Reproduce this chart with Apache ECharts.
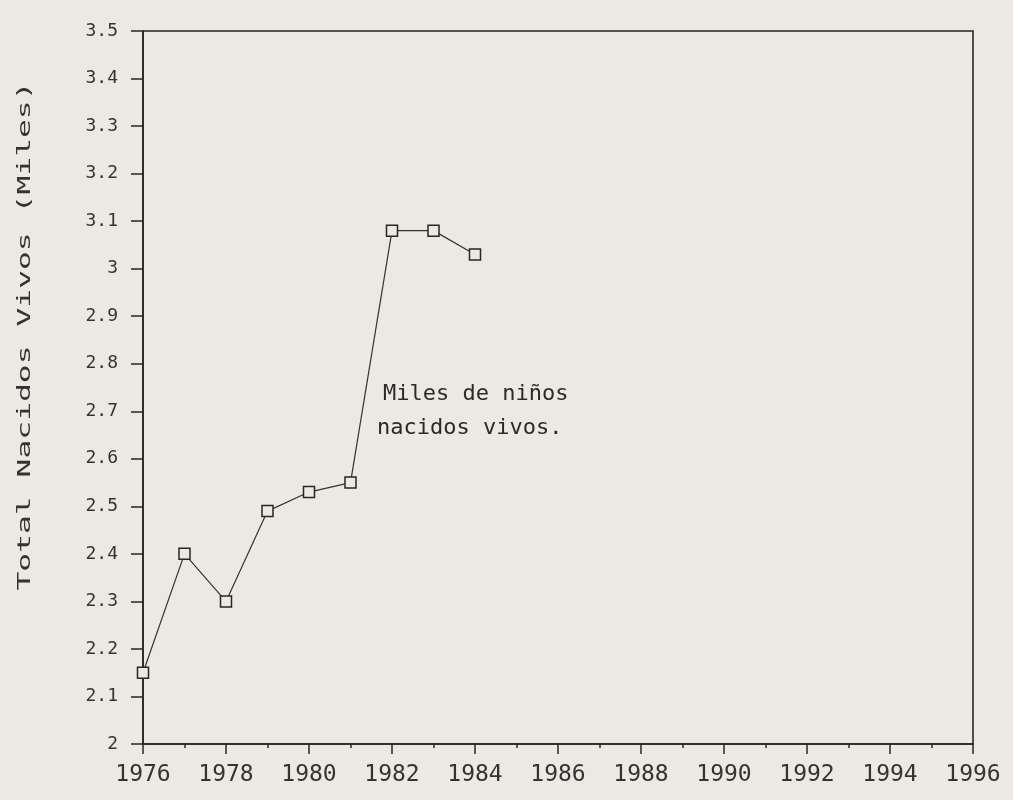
<!DOCTYPE html>
<html>
<head>
<meta charset="utf-8">
<script src="https://cdn.jsdelivr.net/npm/echarts@6/dist/echarts.min.js"></script>
<style>
html,body{margin:0;padding:0;background:#ece9e2;}
#chart{width:1013px;height:800px;}
</style>
</head>
<body>
<div id="chart"></div>
<script>
var years = [1976, 1977, 1978, 1979, 1980, 1981, 1982, 1983, 1984];
var nacidos = [2.15, 2.40, 2.30, 2.49, 2.53, 2.55, 3.08, 3.08, 3.03];
var xTickLabels = ['1976','1978','1980','1982','1984','1986','1988','1990','1992','1994','1996'];
var yTickLabels = ['2','2.1','2.2','2.3','2.4','2.5','2.6','2.7','2.8','2.9','3','3.1','3.2','3.3','3.4','3.5'];
var yTitle = 'Total Nacidos Vivos (Miles)';
var noteLine1 = 'Miles de niños';
var noteLine2 = 'nacidos vivos.';

var ink = '#262626';
var chart = echarts.init(document.getElementById('chart'));
chart.setOption({
  backgroundColor: '#ece9e2',
  animation: false,
  grid: {
    left: 143, right: 40, top: 31, bottom: 56,
    show: true, borderColor: ink, borderWidth: 1.6,
    outerBoundsMode: 'none'
  },
  xAxis: {
    type: 'value',
    min: 1976, max: 1996, interval: 2,
    axisLine: { show: true, lineStyle: { color: ink, width: 1.6 } },
    axisTick: { show: true, inside: false, length: 10, lineStyle: { color: ink, width: 1.5 } },
    minorTick: { show: true, splitNumber: 2, length: 4, lineStyle: { color: ink, width: 1.5 } },
    splitLine: { show: false },
    axisLabel: {
      margin: 20,
      color: '#333',
      fontFamily: 'DejaVu Sans Mono',
      fontSize: 23,
      formatter: function (v) {
        var i = Math.round((v - 1976) / 2);
        return xTickLabels[i] !== undefined ? xTickLabels[i] : '';
      }
    }
  },
  yAxis: {
    type: 'value',
    min: 2, max: 3.5, interval: 0.1,
    axisLine: { show: true, lineStyle: { color: ink, width: 1.6 } },
    axisTick: { show: true, inside: false, length: 12, lineStyle: { color: ink, width: 1.5 } },
    splitLine: { show: false },
    axisLabel: {
      margin: 25,
      color: '#333',
      fontFamily: 'DejaVu Sans Mono',
      fontSize: 18,
      formatter: function (v) {
        var i = Math.round((v - 2) / 0.1);
        return yTickLabels[i] !== undefined ? yTickLabels[i] : '';
      }
    }
  },
  graphic: [
    {
      type: 'text',
      x: 25, y: 336,
      rotation: Math.PI / 2,
      scaleX: 1.74,
      style: {
        text: yTitle,
        fill: '#333',
        font: '18px "DejaVu Sans Mono"',
        align: 'center',
        verticalAlign: 'middle'
      }
    },
    {
      type: 'text',
      x: 383, y: 394,
      style: {
        text: noteLine1,
        fill: '#2a2a2a',
        font: '22px "DejaVu Sans Mono"',
        align: 'left',
        verticalAlign: 'middle'
      }
    },
    {
      type: 'text',
      x: 377, y: 428,
      style: {
        text: noteLine2,
        fill: '#2a2a2a',
        font: '22px "DejaVu Sans Mono"',
        align: 'left',
        verticalAlign: 'middle'
      }
    }
  ],
  series: [{
    type: 'line',
    data: years.map(function (y, i) { return [y, nacidos[i]]; }),
    symbol: 'rect',
    symbolSize: 11,
    lineStyle: { color: '#333', width: 1.2 },
    itemStyle: { color: '#ece9e2', borderColor: ink, borderWidth: 1.5 },
    z: 3
  }]
});
</script>
</body>
</html>
